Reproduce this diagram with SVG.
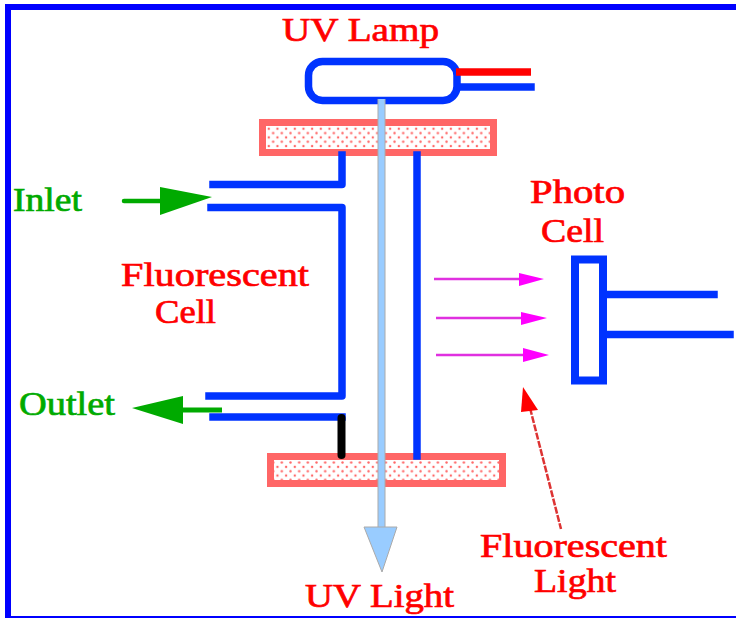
<svg xmlns="http://www.w3.org/2000/svg" width="736" height="618" viewBox="0 0 736 618">
<style>
text{font-family:"Liberation Serif","Times New Roman",serif;font-size:33px;stroke-width:.7}
.r{fill:#f00;stroke:#f00}.g{fill:#0a0;stroke:#0a0}
.b{fill:none;stroke:#03f;stroke-width:7.5;stroke-linecap:square;stroke-linejoin:round}
.plate{fill:url(#dots);stroke:#f66;stroke-width:7}
.mline{stroke:#e030e0;stroke-width:2.5;fill:none}
.mhead{fill:#f0f}
</style>
<defs>
<pattern id="dots" width="8.67" height="8.67" patternUnits="userSpaceOnUse" x="263" y="122">
<rect width="8.67" height="8.67" fill="#fff"/>
<circle cx="1.500" cy="2.500" r="1.200" fill="#f66"/>
<circle cx="5.800" cy="6.800" r="1.200" fill="#f66"/>
</pattern>
</defs>
<rect width="736" height="618" fill="#fff"/>
<g id="frame"><path d="M5 4H736V10H11V616H736V618H5Z" fill="#00f"/></g>
<g id="uv-lamp">
<rect x="308.500" y="61.500" width="148.500" height="39" rx="14" fill="#fff" stroke="#03f" stroke-width="7.500"/>
<path d="M460 87H531" class="b"/>
<path d="M456 72H531" fill="none" stroke="#f00" stroke-width="7.500"/>
<text class="r" x="282" y="41" textLength="157" lengthAdjust="spacingAndGlyphs">UV Lamp</text>
</g>
<g id="top-plate"><rect class="plate" x="262.500" y="122.500" width="231" height="30"/></g>
<g id="bottom-plate"><rect class="plate" x="270.500" y="456.500" width="232" height="27"/></g>
<g id="cell">
<path d="M213 184.500H342V155" class="b"/>
<path d="M211 207.500H342V396H209" class="b"/>
<path d="M213 417H342" class="b"/>
<path d="M417 155V456" class="b"/>
<path d="M341.500 418V455" fill="none" stroke="#000" stroke-width="8" stroke-linecap="round"/>
<text class="r" x="121" y="286" textLength="188" lengthAdjust="spacingAndGlyphs">Fluorescent</text>
<text class="r" x="155" y="323" textLength="61" lengthAdjust="spacingAndGlyphs">Cell</text>
</g>
<g id="photo-cell">
<rect x="575" y="259.500" width="28" height="121" fill="#fff" stroke="#03f" stroke-width="8"/>
<path d="M609 294.500H714M609 334.500H730" class="b"/>
<text class="r" x="530" y="203" textLength="95" lengthAdjust="spacingAndGlyphs">Photo</text>
<text class="r" x="541" y="242" textLength="63" lengthAdjust="spacingAndGlyphs">Cell</text>
</g>
<g id="inlet">
<text class="g" x="13" y="211" textLength="69" lengthAdjust="spacingAndGlyphs">Inlet</text>
</g>
<g id="outlet">
<text class="g" x="19" y="415" textLength="96" lengthAdjust="spacingAndGlyphs">Outlet</text>
</g>
<g id="uv-light-label"><text class="r" x="305" y="607" textLength="149" lengthAdjust="spacingAndGlyphs">UV Light</text></g>
<g id="fluorescent-light-label">
<text class="r" x="480" y="557" textLength="187" lengthAdjust="spacingAndGlyphs">Fluorescent</text>
<text class="r" x="534" y="592" textLength="82" lengthAdjust="spacingAndGlyphs">Light</text>
</g>
<g id="connectors">
<path d="M124 201H166" stroke="#0a0" stroke-width="4.500" stroke-linecap="round" fill="none"/>
<path d="M160 187L212 197L160 215Z" fill="#0a0"/>
<path d="M180 410H222" stroke="#0a0" stroke-width="5" fill="none"/>
<path d="M132 408L183 396V424Z" fill="#0a0"/>
<path d="M381.500 99V530" stroke="#aaa" stroke-width="8" fill="none"/>
<path d="M381.500 99V530" stroke="#9cf" stroke-width="6" fill="none"/>
<path d="M364 527H397L382 572Z" fill="#9cf" stroke="#aaa" stroke-width="1"/>
<path d="M434 279H526M436 318H528M436 355H530" class="mline"/>
<path d="M519 273L544 279L519 286ZM521 312L547 318L521 325ZM523 348L549 355L523 362Z" class="mhead"/>
<path d="M530 408L561 529" stroke="#d33" stroke-width="2.500" stroke-dasharray="7 1.500" fill="none"/>
<path d="M523 387L538 410L521 412Z" fill="#f00"/>
</g>
</svg>
